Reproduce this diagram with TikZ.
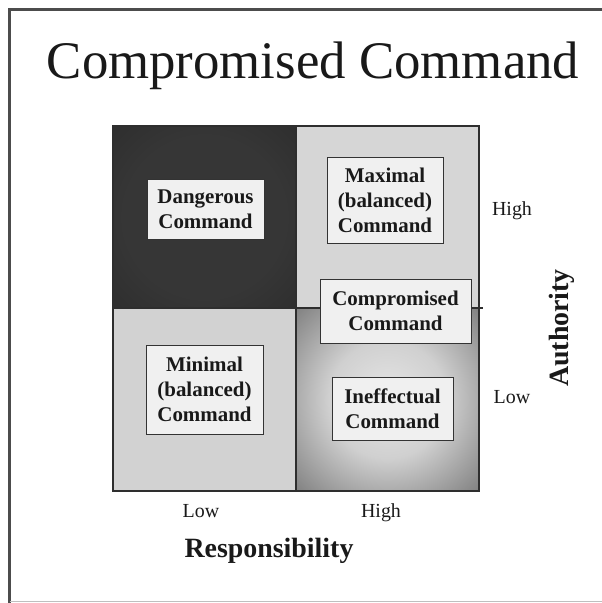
\documentclass[tikz,border=0pt]{standalone}
\usepackage{fontspec}
\setmainfont{Liberation Serif}
\definecolor{tla}{HTML}{363636}
\definecolor{tlb}{HTML}{262626}
\definecolor{tlc}{HTML}{181818}
\definecolor{bra}{HTML}{E6E6E6}
\definecolor{brb}{HTML}{D0D0D0}
\definecolor{brc}{HTML}{5E5E5E}
\definecolor{brd}{HTML}{383838}
\definecolor{lightq}{HTML}{D6D6D6}
\definecolor{lightq2}{HTML}{D2D2D2}
\definecolor{boxfill}{HTML}{F0F0F0}
\definecolor{gridc}{HTML}{2E2E2E}
\pgfdeclareradialshading{tlq}{\pgfpoint{0bp}{0bp}}{color(0bp)=(tla); color(22bp)=(tla); color(50bp)=(tlb); color(71bp)=(tlc)}
\pgfdeclareradialshading{brq}{\pgfpoint{0bp}{0bp}}{color(0bp)=(bra); color(16bp)=(brb); color(44bp)=(brc); color(71bp)=(brd)}
\begin{document}
\begin{tikzpicture}[x=1bp,y=-1bp,
  lbl/.style={font=\fontsize{20}{24}\selectfont, inner sep=0, text=black!90},
  axislbl/.style={font=\bfseries\fontsize{28}{32}\selectfont, inner sep=0, text=black!90},
  grid/.style={draw=gridc, line width=1.6bp},
  cbox/.style={draw=black!80, line width=0.8bp, fill=boxfill, align=center, inner sep=0,
    text=black!90, font=\bfseries\fontsize{21}{25}\selectfont}]
\useasboundingbox[fill=white] (0,0) rectangle (602,603);
\draw[black!70, line width=3bp] (9.5,603) -- (9.5,9.5) -- (602,9.5);
\draw[black!25, line width=1bp] (9.5,601) -- (602,601);
\node[anchor=base, font=\fontsize{53}{60}\selectfont, inner sep=0, text=black!90] (title) at (313,79) {Compromised Command};
% quadrants
\shade[shading=tlq] (113,126) rectangle (296,308);
\fill[lightq] (296,126) rectangle (479,308);
\fill[lightq2] (113,308) rectangle (296,491);
\shade[shading=brq] (296,308) rectangle (479,491);
\draw[grid] (113,126) rectangle (479,491);
\draw[grid] (296,126) -- (296,491);
\draw[grid] (113,308) -- (483,308);
% boxes
\node[cbox, minimum width=117bp, minimum height=60bp] (dang) at (205.5,209) {Dangerous\\Command};
\node[cbox, minimum width=116bp, minimum height=86bp] (maxi) at (385,200) {Maximal\\(balanced)\\Command};
\node[cbox, minimum width=151bp, minimum height=64bp] (comp) at (395.5,311) {Compromised\\Command};
\node[cbox, minimum width=117bp, minimum height=89bp] (mini) at (204.5,389.5) {Minimal\\(balanced)\\Command};
\node[cbox, minimum width=121bp, minimum height=63bp] (ineff) at (392.5,408.5) {Ineffectual\\Command};
% axis labels
\node[lbl, anchor=base] (hiR) at (512,215) {High};
\node[lbl, anchor=base] (loR) at (512,403) {Low};
\node[lbl, anchor=base] (loB) at (201,517) {Low};
\node[lbl, anchor=base] (hiB) at (381,517) {High};
\node[axislbl, anchor=base] (resp) at (269,557) {Responsibility};
\node[axislbl, rotate=90] (auth) at (562,328) {Authority};
\end{tikzpicture}
\end{document}
